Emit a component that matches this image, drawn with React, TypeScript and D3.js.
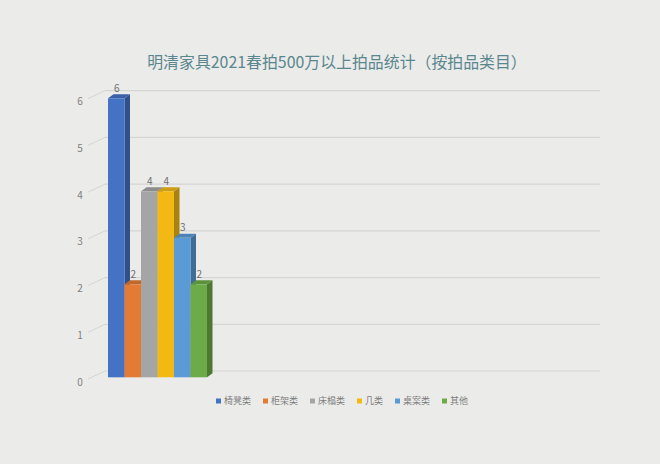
import React from "react";
import * as d3 from "d3";

const title = "明清家具2021春拍500万以上拍品统计（按拍品类目）";
const seriesNames = ["椅凳类", "柜架类", "床榻类", "几类", "桌案类", "其他"];
const seriesValues = [6, 2, 4, 4, 3, 2];
const seriesColors = ["#4472C4", "#E27B35", "#A5A5A5", "#F2B915", "#5B9BD5", "#6CAB47"];
const yTicks = [0, 1, 2, 3, 4, 5, 6];

const W = 660;
const H = 464;
const FONT = "'Noto Sans CJK SC', 'Noto Sans', sans-serif";

export default function App() {
  // back wall scale
  const yBack = d3.scaleLinear().domain([0, 6]).range([371, 90.7]);
  // front face scale (perspective offset)
  const yFront = d3.scaleLinear().domain([0, 6]).range([377.3, 98.3]);
  const x = d3.scaleBand<string>().domain(seriesNames).range([108, 207]).padding(0);
  const depthX = 5.5;
  const depthY = 4;
  const wallLeft = 105;
  const wallRight = 600;

  const legendFont = 9;
  const sq = 5;
  const itemGap = 12;
  const itemWidths = seriesNames.map((n) => sq + 3 + n.length * legendFont);
  const legendTotal = d3.sum(itemWidths) + itemGap * (seriesNames.length - 1);
  const legendStart = 342 - legendTotal / 2;
  const legendX: number[] = [];
  let acc = legendStart;
  itemWidths.forEach((w) => {
    legendX.push(acc);
    acc += w + itemGap;
  });

  const darker = (c: string, k: number) => d3.color(c)!.darker(k).formatHex();

  return (
    <svg
      width={W}
      height={H}
      style={{ position: "absolute", left: 0, top: 0, display: "block" }}
      fontFamily={FONT}
    >
      <rect x={0} y={0} width={W} height={H} fill="#ebebe9" />
      <text
        x={337}
        y={67.5}
        textAnchor="middle"
        fontSize={15.9}
        fill="#5a878e"
      >
        {title}
      </text>

      {/* gridlines on back wall + floor/side diagonal */}
      {yTicks.map((t) => (
        <g key={t}>
          <line
            x1={wallLeft}
            x2={wallRight}
            y1={yBack(t)}
            y2={yBack(t)}
            stroke="#d5d5d3"
            strokeWidth={1.2}
          />
          <line
            x1={88}
            y1={yBack(t) + 8}
            x2={wallLeft}
            y2={yBack(t)}
            stroke="#d5d5d3"
            strokeWidth={1}
          />
          <text
            x={80}
            y={yBack(t) + 14.5}
            textAnchor="middle"
            fontSize={10}
            fill="#808080"
          >
            {t}
          </text>
        </g>
      ))}

      {/* 3D bars */}
      {seriesNames.map((name, i) => {
        const v = seriesValues[i];
        const x0 = x(name)!;
        const x1 = x0 + x.bandwidth();
        const yt = yFront(v);
        const yb = yFront(0);
        const col = seriesColors[i];
        const side = `${x1},${yt} ${x1 + depthX},${yt - depthY} ${x1 + depthX},${yb - depthY} ${x1},${yb}`;
        const top = `${x0},${yt} ${x0 + depthX},${yt - depthY} ${x1 + depthX},${yt - depthY} ${x1},${yt}`;
        return (
          <g key={name}>
            <polygon points={side} fill={darker(col, 1.0)} />
            <polygon points={top} fill={darker(col, 0.45)} />
            <rect x={x0} y={yt} width={x.bandwidth()} height={yb - yt} fill={col} />
          </g>
        );
      })}

      {/* data labels */}
      {seriesNames.map((name, i) => (
        <text
          key={name}
          x={x(name)! + x.bandwidth() / 2 + 0.5}
          y={yFront(seriesValues[i]) - 6.5}
          textAnchor="middle"
          fontSize={10}
          fill="#707070"
        >
          {seriesValues[i]}
        </text>
      ))}

      {/* legend */}
      {seriesNames.map((name, i) => (
        <g key={name}>
          <rect
            x={legendX[i]}
            y={401 - sq / 2}
            width={sq}
            height={sq}
            fill={seriesColors[i]}
          />
          <text
            x={legendX[i] + sq + 3}
            y={401 + legendFont * 0.36}
            fontSize={legendFont}
            fill="#7d7d7d"
          >
            {name}
          </text>
        </g>
      ))}
    </svg>
  );
}
